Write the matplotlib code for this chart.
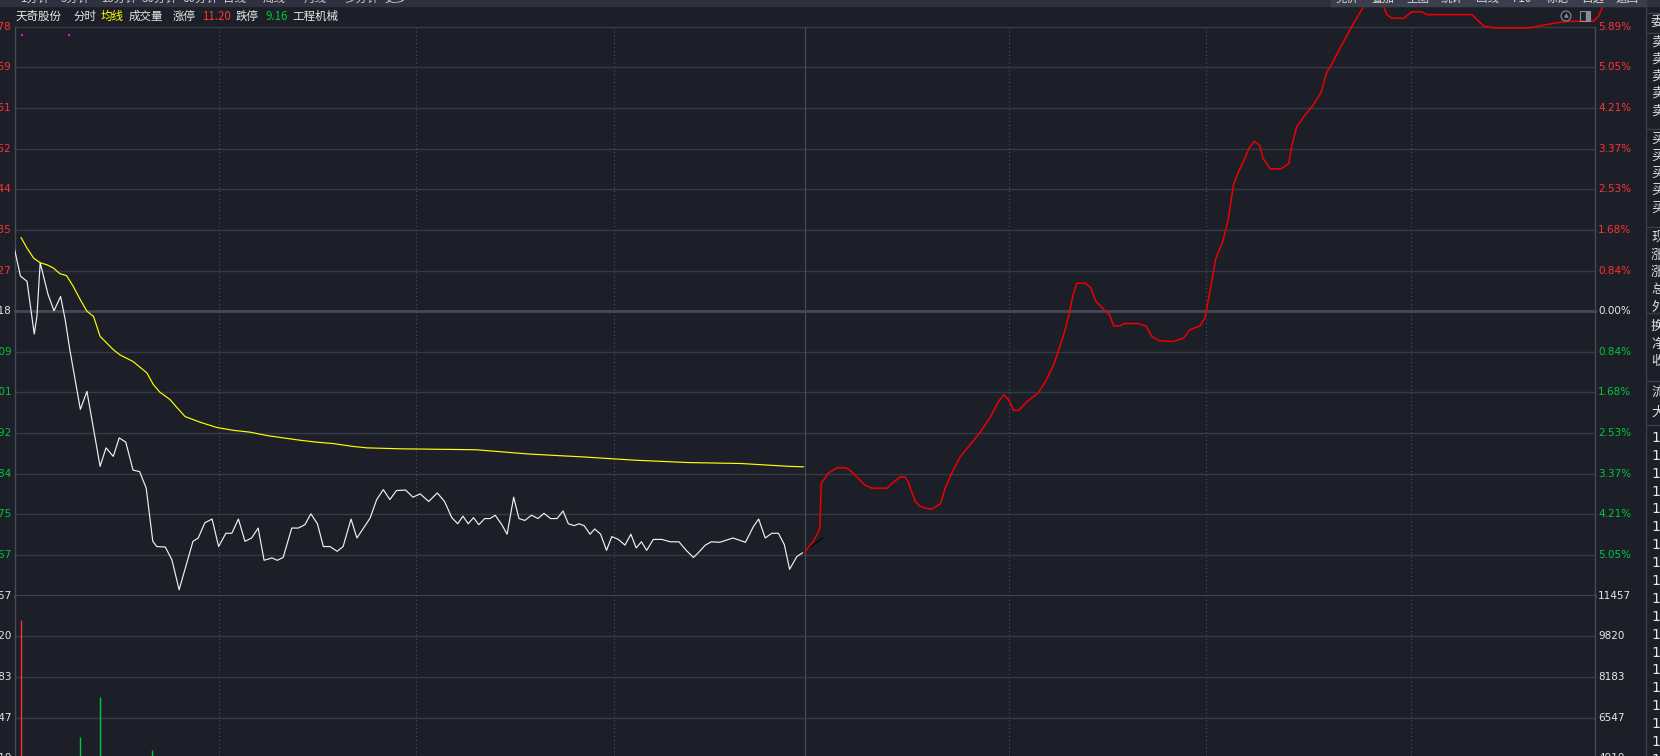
import matplotlib
matplotlib.use("Agg")
import matplotlib.pyplot as plt
from matplotlib.patches import Rectangle, Circle
from matplotlib.transforms import Affine2D

plt.rcParams['font.family'] = ['Noto Sans CJK SC', 'DejaVu Sans']

# ---- values ----
prev_close = 10.18
max_pct = 5.89

pct_labels = ["5.89%", "5.05%", "4.21%", "3.37%", "2.53%", "1.68%", "0.84%", "0.00%",
              "0.84%", "1.68%", "2.53%", "3.37%", "4.21%", "5.05%"]
price_labels = ["10.78", "10.69", "10.61", "10.52", "10.44", "10.35", "10.27", "10.18",
                "10.09", "10.01", "9.92", "9.84", "9.75", "9.67", "9.57"]
vol_levels = [11457, 9820, 8183, 6547, 4910]
vol_labels = ["11457", "9820", "8183", "6547", "4910"]

# (minute, price) - morning price line
price_pts = [(0, 10.311), (0.9, 10.254), (1.9, 10.243), (3.0, 10.132), (3.4, 10.169), (3.9, 10.282),
             (5.1, 10.215), (6.0, 10.181), (7.0, 10.211), (7.7, 10.162), (8.4, 10.099), (10.0, 9.973),
             (11.0, 10.011), (13.0, 9.853), (13.9, 9.892), (15.0, 9.874), (15.9, 9.913), (16.9, 9.904),
             (18.0, 9.845), (19.0, 9.842), (20.0, 9.807), (21.0, 9.695), (21.6, 9.684), (22.9, 9.683),
             (23.9, 9.656), (25.0, 9.593), (27.1, 9.695), (27.9, 9.702), (28.9, 9.734), (30.0, 9.742),
             (31.0, 9.684), (32.1, 9.712), (33.0, 9.712), (34.0, 9.742), (35.0, 9.695), (36.0, 9.702),
             (37.0, 9.723), (37.9, 9.655), (39.1, 9.660), (39.9, 9.655), (40.8, 9.661), (42.1, 9.723),
             (43.1, 9.723), (44.1, 9.730), (45.0, 9.753), (46.0, 9.732), (46.9, 9.684), (47.9, 9.684),
             (49.0, 9.674), (49.9, 9.684), (51.1, 9.742), (52.0, 9.702), (54.0, 9.744), (55.0, 9.783),
             (56.0, 9.804), (57.0, 9.783), (58.0, 9.802), (59.4, 9.803), (60.5, 9.788), (61.6, 9.795),
             (62.9, 9.779), (64.2, 9.797), (65.3, 9.779), (66.4, 9.745), (67.3, 9.732), (68.1, 9.748),
             (68.9, 9.732), (69.7, 9.745), (70.5, 9.730), (71.4, 9.743), (72.2, 9.743), (73.0, 9.750),
             (74.0, 9.730), (74.8, 9.710), (75.8, 9.788), (76.6, 9.743), (77.5, 9.739), (78.5, 9.750),
             (79.5, 9.743), (80.4, 9.754), (81.4, 9.743), (82.4, 9.743), (83.3, 9.759), (84.1, 9.732),
             (85.0, 9.728), (85.7, 9.732), (86.5, 9.728), (87.4, 9.710), (88.1, 9.721), (89.0, 9.710),
             (89.9, 9.676), (90.7, 9.705), (91.7, 9.699), (92.7, 9.687), (93.6, 9.710), (94.4, 9.681),
             (95.2, 9.694), (96.0, 9.676), (97.0, 9.699), (98.3, 9.699), (99.6, 9.694), (100.9, 9.694),
             (102.0, 9.676), (103.1, 9.661), (103.9, 9.672), (104.9, 9.687), (105.8, 9.694), (107.1, 9.693),
             (109.1, 9.702), (111.0, 9.693), (112.2, 9.726), (113.0, 9.742), (114.0, 9.702), (115.0, 9.712),
             (116.0, 9.712), (116.9, 9.688), (117.7, 9.636), (118.8, 9.663), (119.8, 9.672)]

# (minute, price) - average price line
avg_pts = [(1.0, 10.335), (1.9, 10.313), (2.9, 10.292), (3.9, 10.282), (4.9, 10.278), (5.9, 10.271),
           (6.9, 10.259), (7.9, 10.255), (8.9, 10.233), (10.0, 10.204), (11.0, 10.180), (12.0, 10.169),
           (13.0, 10.127), (15.0, 10.099), (16.0, 10.088), (18.0, 10.074), (20.1, 10.050), (21.1, 10.025),
           (22.1, 10.009), (23.6, 9.994), (24.6, 9.978), (25.9, 9.958), (28.2, 9.946), (30.7, 9.935),
           (33.2, 9.929), (35.8, 9.925), (38.3, 9.918), (40.8, 9.913), (43.4, 9.908), (45.9, 9.904),
           (48.4, 9.901), (51.4, 9.895), (53.5, 9.892), (58.5, 9.890), (70.1, 9.888), (78.1, 9.879),
           (86.2, 9.873), (94.2, 9.866), (102.3, 9.861), (110.3, 9.859), (117.6, 9.853), (119.8, 9.852)]

# (minute, price) - red overlay line in the afternoon
red_pts = [(120.0, 9.672), (120.5, 9.681), (121.3, 9.695), (122.1, 9.716), (122.3, 9.726), (122.5, 9.818),
           (122.9, 9.825), (123.6, 9.839), (124.9, 9.850), (126.3, 9.850), (127.1, 9.842), (128.1, 9.828),
           (129.1, 9.814), (130.2, 9.807), (132.5, 9.807), (133.0, 9.814), (134.5, 9.831), (135.2, 9.831),
           (135.7, 9.821), (136.1, 9.804), (136.8, 9.779), (137.5, 9.769), (138.3, 9.765), (139.3, 9.763),
           (140.6, 9.774), (141.4, 9.810), (142.5, 9.844), (143.6, 9.873), (144.9, 9.895), (146.5, 9.922),
           (148.1, 9.955), (149.4, 9.989), (150.2, 10.004), (151.0, 9.993), (151.7, 9.971), (152.5, 9.971),
           (153.7, 9.989), (155.4, 10.007), (156.6, 10.033), (157.8, 10.067), (158.6, 10.100), (159.4, 10.134),
           (160.2, 10.178), (160.7, 10.212), (161.3, 10.239), (162.6, 10.239), (163.4, 10.230), (164.2, 10.201),
           (165.3, 10.185), (166.3, 10.172), (166.9, 10.149), (167.9, 10.149), (168.5, 10.154), (170.6, 10.154),
           (171.8, 10.149), (172.7, 10.127), (173.8, 10.118), (175.9, 10.116), (177.5, 10.123), (178.5, 10.141),
           (180.0, 10.149), (180.8, 10.167), (181.4, 10.212), (182.4, 10.290), (183.5, 10.328), (184.3, 10.373),
           (185.1, 10.446), (185.9, 10.475), (186.7, 10.498), (187.5, 10.525), (188.3, 10.538), (189.1, 10.529),
           (189.6, 10.502), (190.7, 10.480), (192.3, 10.480), (193.5, 10.491), (193.9, 10.525), (194.7, 10.569),
           (195.9, 10.592), (197.2, 10.614), (198.4, 10.641), (199.2, 10.681), (200.1, 10.703), (201.2, 10.732),
           (203.1, 10.781), (204.6, 10.816), (205.4, 10.837), (206.1, 10.86), (206.8, 10.86), (207.5, 10.837),
           (208.4, 10.805), (209.1, 10.798), (210.9, 10.797), (212.2, 10.811), (213.7, 10.811), (214.5, 10.805),
           (221.3, 10.805), (223.1, 10.781), (224.8, 10.777), (229.9, 10.777), (232.7, 10.784), (234.2, 10.788),
           (236.2, 10.791), (239.8, 10.791), (240.5, 10.802), (241.0, 10.816), (241.2, 10.827), (241.3, 10.86)]

black_pts = [(119.8, 9.672), (122.7, 9.702)]
signal_min = [1.1, 8.3]
signal_val = [10.762, 10.762]

vol_min = [1.0, 10.0, 13.0, 20.9]
vol_val = [10478, 5765, 7377, 5242]
vol_up = [True, False, False, False]

dotted_min = [31, 61, 91, 151, 181, 212]
noon_min = 120

menu_left = ["1分钟", "5分钟", "15分钟", "30分钟", "60分钟", "日线", "周线", "月线", "多分钟", "更多"]
menu_right = ["竞价", "叠加", "主图", "统计", "画线", "F10", "标记", "自选", "返回"]
side_rows = ["委比", "卖五", "卖四", "卖三", "卖二", "卖一", "买一", "买二", "买三", "买四", "买五",
             "现价", "涨跌", "涨幅", "总量", "外盘", "换手", "净资", "收益", "流通", "大单"]

# ---- colours / layout ----
BG = '#1c1f27'
GRID = '#353a46'
AXC = '#454a57'
WHITE = '#e8e8e8'
RED = '#ff3232'
GREEN = '#00c83c'
YELLOW = '#ffff00'

W, H = 1660, 756
L, R, T, MID = 14.5, 1595, 26.7, 595.7

fig = plt.figure(figsize=(W / 100, H / 100), dpi=100, facecolor=BG)
pix = Affine2D().scale(1 / W, -1 / H).translate(0, 1) + fig.transFigure

ax = fig.add_axes([L / W, 1 - MID / H, (R - L) / W, (MID - T) / H])
axv = fig.add_axes([L / W, 0, (R - L) / W, 1 - MID / H])

step = prev_close * max_pct / 100 / 7
levels = [prev_close + k * step for k in range(7, -8, -1)]
vpp = (vol_levels[0] - vol_levels[1]) / ((MID - T) / 14)

ax.set_ylim(levels[-1], levels[0])
axv.set_ylim(vol_levels[0] - (H - MID) * vpp, vol_levels[0])

for a in (ax, axv):
    a.set_facecolor(BG)
    a.set_xlim(0, 240)
    a.set_xticks([])
    a.set_yticks([])
    for s in a.spines.values():
        s.set_visible(False)
    for side in ('left', 'right'):
        a.spines[side].set_visible(True)
        a.spines[side].set_color(AXC)
        a.spines[side].set_linewidth(1.0)
    for m in dotted_min:
        a.axvline(m, color='#4a4f5c', lw=0.8, ls=(0, (1, 2.5)))
    a.axvline(noon_min, color=AXC, lw=0.9)

for i, lv in enumerate(levels):
    thick = i in (7, 14)
    ax.axhline(lv, color=AXC if thick else GRID, lw=2.0 if thick else 1.0, clip_on=False, zorder=1)
for v in vol_levels[1:]:
    axv.axhline(v, color=GRID, lw=1.0)

# price axis labels
ytr = ax.get_yaxis_transform()
xr = (1598 - L) / (R - L)
xl = (12 - L) / (R - L)
for i, lv in enumerate(levels):
    c = RED if i < 7 else (WHITE if i in (7, 14) else GREEN)
    ax.text(xl, lv, price_labels[i], transform=ytr, ha='right', va='center', color=c,
            fontsize=7.5, family='DejaVu Sans')
    if i < 14:
        ax.text(xr, lv, pct_labels[i], transform=ytr, ha='left', va='center', color=c,
                fontsize=7.5, family='DejaVu Sans')

vtr = axv.get_yaxis_transform()
for i, v in enumerate(vol_levels):
    axv.text(xr, v, vol_labels[i], transform=vtr, ha='left', va='center', color=WHITE,
             fontsize=7.5, family='DejaVu Sans')
    if i > 0:
        axv.text(xl, v, vol_labels[i], transform=vtr, ha='right', va='center', color=WHITE,
                 fontsize=7.5, family='DejaVu Sans')

# lines
pm, pv = zip(*price_pts)
ax.plot(pm, pv, color='#f0f0f0', lw=0.85, zorder=4)
am, av = zip(*avg_pts)
ax.plot(am, av, color=YELLOW, lw=0.85, zorder=4)
bm, bv = zip(*black_pts)
ax.plot(bm, bv, color='#000000', lw=0.9, zorder=5)
rm, rv = zip(*red_pts)
ax.plot(rm, rv, color='#ee0000', lw=1.1, zorder=10, clip_on=False)
ax.scatter(signal_min, signal_val, marker='s', s=2.5, color='#ff00ff', lw=0, zorder=5)

# volume bars
for m, v, up in zip(vol_min, vol_val, vol_up):
    axv.vlines(m, 0, v, color=RED if up else GREEN, lw=1.0)

# ---- window chrome ----
fig.patches.append(Rectangle((0, 0), W, 6, transform=pix, color='#2f313e', zorder=0))
for j, t in enumerate(menu_left):
    fig.text(20 + j * 40.5, -1.5, t, transform=pix, color='#cfcfcf', fontsize=8.3,
             ha='left', va='center')
for j, t in enumerate(menu_right):
    x0 = 1330 + j * 35
    fig.patches.append(Rectangle((x0 + 1, 0), 34, 6, transform=pix, color='#3b3e4c', zorder=0))
    fig.text(x0 + 17.5, -1.5, t, transform=pix, color='#d8d8d8', fontsize=8.3,
             ha='center', va='center')

title = [("天奇股份", 16, WHITE), ("分时", 73, WHITE), ("均线", 101, YELLOW), ("成交量", 129, WHITE),
         ("涨停", 173, WHITE), ("11.20", 202, RED), ("跌停", 236, WHITE), ("9.16", 265, GREEN),
         ("工程机械", 292, WHITE)]
for t, x, c in title:
    fig.text(x, 16.5, t, transform=pix, color=c, fontsize=8.3, ha='left', va='center')

# small icons top right
fig.patches.append(Circle((1566, 16), 5, transform=pix, fill=False, ec='#8a8d96', lw=0.8))
fig.text(1566, 16, "▲", transform=pix, color='#8a8d96', fontsize=4.5, ha='center', va='center',
         family='DejaVu Sans')
fig.patches.append(Rectangle((1580, 11), 10, 10, transform=pix, fill=False, ec='#8a8d96', lw=0.8))
fig.patches.append(Rectangle((1586, 12), 3, 8, transform=pix, color='#8a8d96'))

# side panel on the right, clipped by the window
fig.lines.append(plt.Line2D([1645.5, 1645.5], [0, H], transform=pix, color='#3a3e4a', lw=1))
for y in [12.7, 33.3, 129.3, 226.7, 313.3, 381, 425]:
    fig.lines.append(plt.Line2D([1646, W], [y, y], transform=pix, color='#3a3e4a', lw=1))
row_y = [23, 42, 59, 76, 93, 111, 139, 156, 173, 190, 208, 237, 255, 272, 290, 307, 326, 344, 362, 392, 412]
for t, y in zip(side_rows, row_y):
    fig.text(1651, y, t, transform=pix, color='#e0e0e0', fontsize=9.5, ha='left', va='center')
for k in range(19):
    fig.text(1651, 760 - k * 17.9, "1", transform=pix, color='#e8e8e8', fontsize=10,
             ha='left', va='center', family='DejaVu Sans')

fig.savefig("out.png", dpi=100, facecolor=BG)
